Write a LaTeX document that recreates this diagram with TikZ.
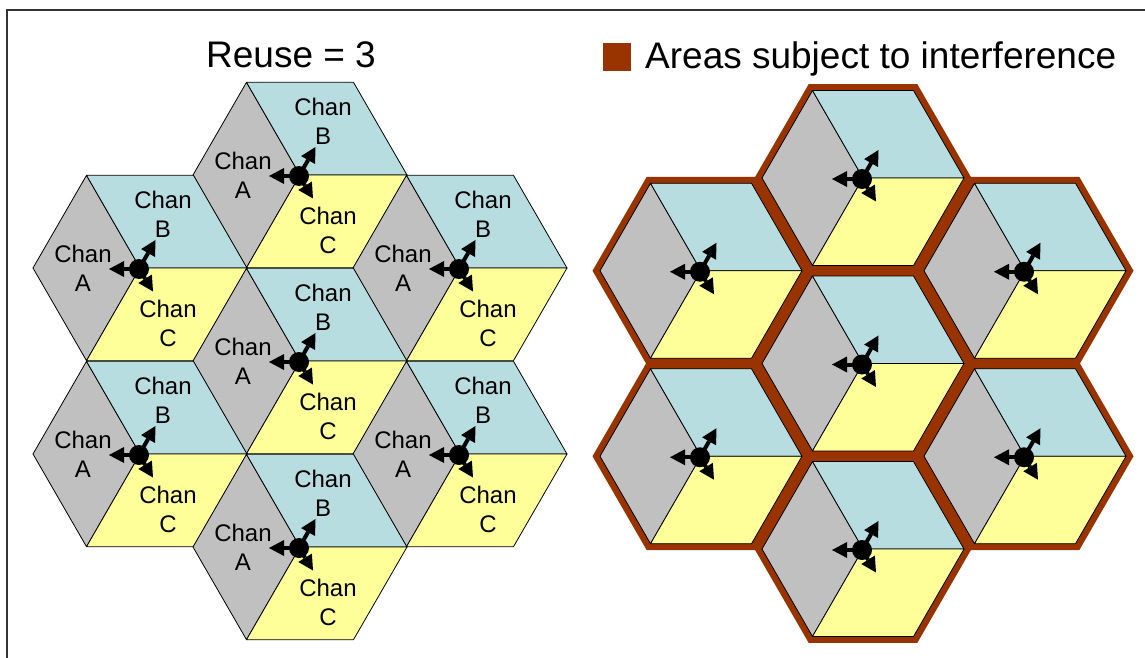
\documentclass[tikz,border=0pt]{standalone}
\usepackage{fontspec}
\setmainfont{Liberation Sans}
\usetikzlibrary{arrows.meta}

\definecolor{chanA}{HTML}{C0C0C0}
\definecolor{chanB}{HTML}{B8DDE0}
\definecolor{chanC}{HTML}{FFFF99}
\definecolor{rim}{HTML}{993300}
\definecolor{framegray}{HTML}{333333}

\tikzset{
  cellA/.style={fill=chanA, draw=black, line width=0.8pt, line join=round},
  cellB/.style={fill=chanB, draw=black, line width=0.8pt, line join=round},
  cellC/.style={fill=chanC, draw=black, line width=0.8pt, line join=round},
  rimhex/.style={fill=rim},
  beamhead/.tip={Triangle[length=15pt, width=16pt, line width=0pt]},
  beam/.style={line width=4pt, -{beamhead}},
  lbl/.style={font=\fontsize{24}{29}\selectfont, align=center, inner sep=0pt},
  bigtext/.style={font=\fontsize{37}{44}\selectfont, inner sep=0pt},
  frameline/.style={draw=framegray, line width=1.4pt},
}

% three-sector cell: #1,#2 centre, #3 radius, #4 name
\newcommand{\hexcell}[4]{%
  \begin{scope}[shift={(#1,#2)}]
    \pgfmathsetmacro\hq{0.5*#3}
    \pgfmathsetmacro\hh{0.8660*#3}
    \coordinate (#4) at (0,0);
    \filldraw[cellA] (#4) -- (-\hq,-\hh) -- (-#3,0) -- (-\hq,\hh) -- cycle;
    \filldraw[cellB] (#4) -- (-\hq,-\hh) -- (\hq,-\hh) -- (#3,0) -- cycle;
    \filldraw[cellC] (#4) -- (#3,0) -- (\hq,\hh) -- (-\hq,\hh) -- cycle;
    % sector antenna
    \coordinate (#4-o) at (-1,1);
    \coordinate (#4-w) at (-31,1);
    \coordinate (#4-n) at (15.5,-28);
    \coordinate (#4-s) at (13,23.5);
    \draw[beam] (#4-o) -- (#4-w);
    \draw[beam] (#4-o) -- (#4-n);
    \draw[beam] (#4-o) -- (#4-s);
    \fill[black] (#4-o) circle (10pt);
  \end{scope}}

% channel labels of a cell: #1,#2 centre, #3 name
\newcommand{\chanlabels}[3]{%
  \begin{scope}[shift={(#1,#2)}]
    \node[lbl] (#3-a) at (-57,0)  {Chan\\A};
    \node[lbl] (#3-b) at (23,-54) {Chan\\B};
    \node[lbl] (#3-c) at (28,55)  {Chan\\C};
  \end{scope}}

% brown outline of a cell: #1,#2 centre, #3 radius
\newcommand{\rimcell}[3]{%
  \begin{scope}[shift={(#1,#2)}]
    \pgfmathsetmacro\hq{0.5*#3}
    \pgfmathsetmacro\hh{0.8660*#3}
    \fill[rimhex] (#3,0) -- (\hq,-\hh) -- (-\hq,-\hh) -- (-#3,0)
      -- (-\hq,\hh) -- (\hq,\hh) -- cycle;
  \end{scope}}

\begin{document}
\begin{tikzpicture}[x=1pt, y=-1pt]
  \useasboundingbox (0,0) rectangle (1145,658);
  \fill[white] (0,0) rectangle (1145,658);
  \draw[frameline] (7,10) rectangle (1200,700);

  % titles
  \node[bigtext, anchor=base] (title) at (291,68) {Reuse = 3};
  \node[fill=rim, minimum size=28pt, inner sep=0pt] (key) at (617,57) {};
  \node[bigtext, anchor=base west] (keytext) at (645,69) {Areas subject to interference};

  % left cluster, reuse 3
  \hexcell{300}{175}{107}{L1}
  \hexcell{140}{268}{107}{L2}
  \hexcell{460}{268}{107}{L3}
  \hexcell{300}{361}{107}{L4}
  \hexcell{140}{454}{107}{L5}
  \hexcell{460}{454}{107}{L6}
  \hexcell{300}{547}{107}{L7}
  \chanlabels{300}{175}{L1}
  \chanlabels{140}{268}{L2}
  \chanlabels{460}{268}{L3}
  \chanlabels{300}{361}{L4}
  \chanlabels{140}{454}{L5}
  \chanlabels{460}{454}{L6}
  \chanlabels{300}{547}{L7}

  % right cluster with interference rims
  \rimcell{863}{178}{108.5}
  \rimcell{701}{270.75}{108.5}
  \rimcell{1025}{270.75}{108.5}
  \rimcell{863}{363.5}{108.5}
  \rimcell{701}{456.25}{108.5}
  \rimcell{1025}{456.25}{108.5}
  \rimcell{863}{549}{108.5}
  \hexcell{863}{178}{101}{R1}
  \hexcell{701}{270.75}{101}{R2}
  \hexcell{1025}{270.75}{101}{R3}
  \hexcell{863}{363.5}{101}{R4}
  \hexcell{701}{456.25}{101}{R5}
  \hexcell{1025}{456.25}{101}{R6}
  \hexcell{863}{549}{101}{R7}
\end{tikzpicture}
\end{document}
